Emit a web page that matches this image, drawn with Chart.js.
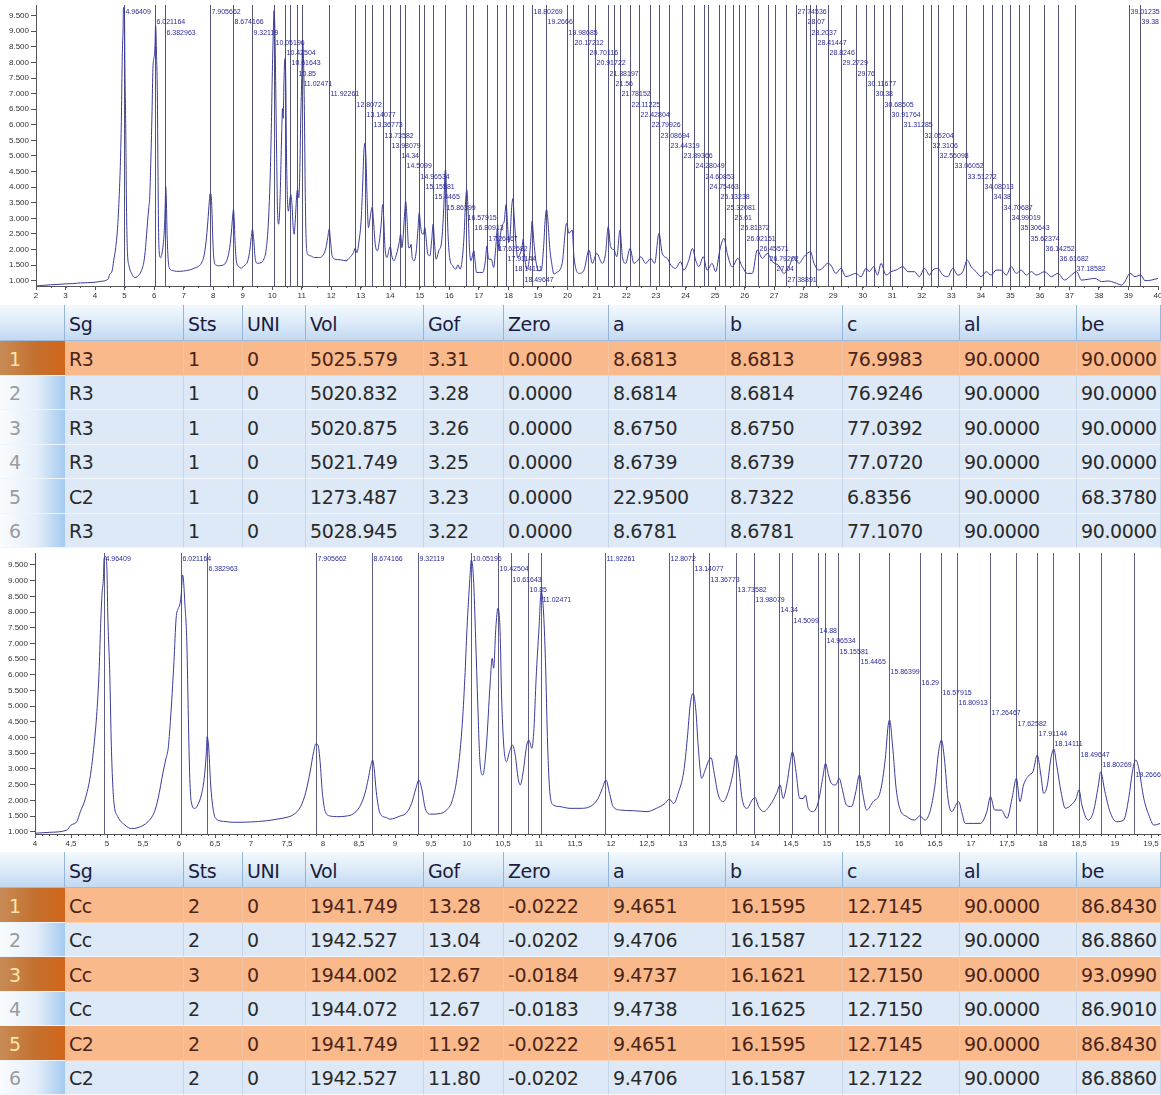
<!DOCTYPE html>
<html>
<head>
<meta charset="utf-8">
<script src="https://cdn.jsdelivr.net/npm/chart.js@4.4.1/dist/chart.umd.min.js"></script>
<style>
  body { margin: 0; background: #fff; width: 1161px; height: 1095px; position: relative; overflow: hidden; }
  .plot { position: absolute; left: 0; }
  .grid {
    position: absolute; left: 0; width: 1161px; display: grid;
    grid-template-columns: 65px 119px 59px 63px 118px 80px 105px 117px 117px 117px 117px 84px;
    grid-template-rows: 36px repeat(6, 34.5px);
    font-family: "DejaVu Sans", sans-serif; font-size: 19px; letter-spacing: -0.4px;
  }
  .grid div { box-sizing: border-box; display: flex; align-items: center; padding: 2px 0 0 4px; white-space: nowrap; overflow: hidden; }
  .h { background: linear-gradient(#f4f9fe, #dfecf9 45%, #c2d9f2); border-right: 1px solid #94b4d8; border-bottom: 1px solid #9dbcdf; color: #1c1c3c; }
  .c { background: #dde9f7; border-right: 1px solid #c5d6ea; border-bottom: 1px solid #f3f7fc; color: #2a2a2a; }
  .c.sel { background: #f9b98b; color: #4b2418; border-right-color: #f1c6a4; border-bottom-color: #fbd2b2; }
  .grid .n { background: linear-gradient(90deg, #fafcfe, #e5eff9 55%, #a4caf0); color: #9b9b9b; border-bottom: 1px solid #eef4fb; padding-left: 9px; }
  .grid .n.sel { background: linear-gradient(90deg, #c88b55, #c4702f 55%, #d2661a); color: #f7e8aa; }
</style>
</head>
<body>
<div class="plot" style="top:0"><canvas id="top" width="1161" height="305"></canvas></div>
<div class="grid" id="table1" style="top:305px"></div>
<div class="plot" style="top:548px"><canvas id="bottom" width="1161" height="304"></canvas></div>
<div class="grid" id="table2" style="top:852px"></div>

<script>
// powder pattern: [2theta, counts]
const pattern = [
  [2.00,830],[2.25,850],[2.50,870],[2.75,880],[3.00,900],[3.25,905],[3.50,930],[3.75,935],[4.00,950],[4.20,980],
  [4.44,1050],[4.50,1210],[4.58,1320],[4.63,1640],[4.70,2060],[4.77,2800],[4.82,3760],[4.86,4830],[4.89,6100],[4.91,7480],
  [4.93,8540],[4.95,9075],[4.96,9710],[4.98,9770],[5.00,9290],[5.01,8010],[5.04,5890],[5.06,3760],[5.08,2490],[5.10,1850],
  [5.15,1480],[5.25,1210],[5.34,1100],[5.43,1130],[5.57,1320],[5.66,1640],[5.71,2060],[5.78,2910],[5.82,3340],[5.85,3660],
  [5.88,4510],[5.93,6420],[5.96,7800],[5.99,8120],[6.01,8225],[6.03,8540],[6.05,9180],[6.06,9080],[6.08,8330],[6.11,6950],
  [6.13,4610],[6.15,2700],[6.17,1960],[6.22,1740],[6.26,1850],[6.31,2170],[6.35,2700],[6.38,3550],[6.39,4030],[6.41,3760],
  [6.44,2490],[6.48,1640],[6.52,1400],[6.62,1330],[6.76,1300],[6.99,1310],[7.22,1350],[7.36,1400],[7.50,1460],[7.60,1560],
  [7.69,1800],[7.76,2250],[7.82,2900],[7.87,3550],[7.90,3800],[7.93,3760],[7.96,3230],[7.99,2275],[8.03,1650],[8.10,1500],
  [8.19,1480],[8.33,1500],[8.42,1570],[8.51,1800],[8.58,2200],[8.63,2700],[8.66,3070],[8.69,3285],[8.71,3020],[8.74,2275],
  [8.79,1600],[8.88,1450],[8.93,1400],[9.07,1500],[9.16,1600],[9.23,1900],[9.29,2380],[9.33,2650],[9.37,2380],[9.42,1745],
  [9.49,1560],[9.63,1580],[9.72,1700],[9.79,1960],[9.86,2700],[9.93,4290],[9.97,5890],[10.00,7480],[10.04,9075],[10.06,9660],
  [10.09,9075],[10.12,7160],[10.15,5040],[10.18,3230],[10.22,2810],[10.27,3760],[10.32,5675],[10.35,6525],[10.37,6210],[10.40,7480],
  [10.43,8120],[10.46,7375],[10.48,5360],[10.51,3760],[10.55,3230],[10.59,3550],[10.63,3760],[10.67,3440],[10.71,2700],[10.74,2490],
  [10.78,2910],[10.83,3760],[10.86,3920],[10.90,3660],[10.93,4290],[10.96,5890],[11.00,7480],[11.03,8650],[11.06,8120],[11.09,6420],
  [11.12,3760],[11.15,2275],[11.20,1850],[11.29,1800],[11.43,1745],[11.57,1745],[11.71,1800],[11.82,2060],[11.88,2380],[11.93,2650],
  [11.98,2220],[12.03,1800],[12.13,1690],[12.31,1670],[12.50,1640],[12.63,1745],[12.75,1900],[12.81,2040],[12.87,1900],[12.94,2275],
  [13.01,2910],[13.06,3975],[13.10,5040],[13.14,5410],[13.18,4830],[13.21,3760],[13.26,2700],[13.30,2910],[13.35,3230],[13.39,3360],
  [13.43,2910],[13.49,2170],[13.56,1960],[13.63,2275],[13.69,2810],[13.74,3440],[13.77,3125],[13.82,2060],[13.89,1745],[13.96,2010],
  [14.00,2095],[14.05,1800],[14.12,1640],[14.21,1850],[14.30,2220],[14.35,2490],[14.39,2060],[14.44,2490],[14.49,3230],[14.52,3550],
  [14.57,2910],[14.62,2060],[14.67,2060],[14.70,2170],[14.74,1745],[14.81,1640],[14.88,1960],[14.94,2700],[14.98,3180],[15.02,2810],
  [15.06,2540],[15.12,2490],[15.17,2700],[15.21,2380],[15.27,1850],[15.34,1800],[15.40,2275],[15.45,2810],[15.50,2170],[15.55,1690],
  [15.64,1960],[15.74,2275],[15.81,3340],[15.85,4400],[15.87,4560],[15.91,3760],[15.96,2380],[16.01,1745],[16.11,1480],[16.22,1370],
  [16.29,1510],[16.36,1370],[16.43,1640],[16.50,2490],[16.55,3550],[16.59,3920],[16.63,3340],[16.68,2060],[16.73,1640],[16.83,1960],
  [16.87,1640],[16.92,1265],[17.03,1265],[17.13,1265],[17.22,1640],[17.27,2115],[17.33,1690],[17.42,1690],[17.50,1425],[17.57,2060],
  [17.63,2700],[17.68,1960],[17.73,2490],[17.81,2810],[17.86,2910],[17.92,3440],[17.97,2810],[18.01,2220],[18.06,2490],[18.11,3340],
  [18.15,3635],[18.19,3125],[18.25,2275],[18.31,1745],[18.39,1850],[18.46,2060],[18.50,2330],[18.54,1850],[18.63,1370],[18.70,1640],
  [18.77,2490],[18.80,2910],[18.86,2275],[18.93,1640],[19.02,1320],[19.12,1370],[19.19,2060],[19.25,3020],[19.29,3285],[19.33,3020],
  [19.40,2060],[19.47,1530],[19.54,1210],[19.61,1250],[19.82,1555],[19.97,2840],[20.05,2520],[20.16,2625],[20.22,1770],[20.39,1235],
  [20.56,1340],[20.73,1985],[20.84,1555],[20.99,1875],[21.18,1555],[21.29,1875],[21.38,2730],[21.46,2090],[21.58,1985],[21.67,1770],
  [21.78,2625],[21.86,1770],[21.97,1555],[22.12,2035],[22.25,1555],[22.39,1660],[22.48,1770],[22.65,1555],[22.82,1715],[22.95,1555],
  [23.10,2520],[23.21,1875],[23.38,1715],[23.50,1500],[23.66,1395],[23.83,1610],[23.94,1340],[24.11,1660],[24.23,2035],[24.34,1660],
  [24.45,1450],[24.60,1770],[24.73,1340],[24.90,1555],[25.02,1290],[25.16,1985],[25.30,2360],[25.41,1875],[25.58,1450],[25.77,1715],
  [25.92,1450],[26.09,1235],[26.26,1235],[26.43,1985],[26.60,1715],[26.77,1875],[26.94,1610],[27.16,1480],[27.33,1235],[27.50,1450],
  [27.67,1770],[27.84,1555],[28.01,1770],[28.12,1875],[28.23,1930],[28.35,1555],[28.52,1340],[28.69,1450],[28.80,1555],[28.92,1500],
  [29.09,1235],[29.26,1395],[29.43,1130],[29.60,1180],[29.77,1235],[29.94,1130],[30.11,1395],[30.22,1290],[30.37,1450],[30.50,1180],
  [30.62,1555],[30.79,1180],[30.96,1290],[31.13,1340],[31.36,1450],[31.53,1290],[31.75,1290],[31.92,1130],[32.09,1395],[32.26,1180],
  [32.37,1340],[32.54,1395],[32.71,1180],[32.88,1130],[33.05,1395],[33.22,1180],[33.39,1290],[33.54,1660],[33.67,1450],[33.84,1290],
  [34.01,1130],[34.18,1290],[34.35,1180],[34.52,1340],[34.69,1340],[34.86,1180],[35.03,1450],[35.20,1235],[35.37,1340],[35.54,1180],
  [35.71,1290],[35.88,1180],[36.16,1290],[36.39,1130],[36.61,1235],[36.84,1020],[37.01,1130],[37.24,1290],[37.41,1020],[37.63,1045],
  [37.86,1075],[38.09,970],[38.31,990],[38.54,935],[38.77,860],[38.88,970],[39.05,1235],[39.22,1130],[39.42,1180],[39.56,1000],
  [39.78,1020],[40.00,1075]
];

// peak markers, as labelled in each plot
const peaksTop = [
  '4.96409','6.021164','6.382963','7.905662','8.674166','9.32119','10.05196','10.42504','10.61643','10.85',
  '11.02471','11.92261','12.8072','13.14077','13.36773','13.73582','13.98079','14.34','14.5099','14.96534',
  '15.15581','15.4465','15.86399','16.57915','16.80913','17.26467','17.62582','17.91144','18.14111','18.49647',
  '18.80269','19.2666','19.98685','20.17212','20.70116','20.91722','21.38197','21.56','21.78152','22.11225',
  '22.42804','22.79926','23.08694','23.44319','23.89366','24.28049','24.60853','24.75463','25.13238','25.32081',
  '25.61','25.81372','26.02151','26.45571','26.79202','27.04','27.38891','27.74536','28.07','28.2037',
  '28.41447','28.8246','29.2729','29.76','30.11677','30.38','30.68505','30.91764','31.31285','32.05204',
  '32.3106','32.55098','33.06052','33.51272','34.08013','34.38','34.70687','34.99019','35.30643','35.62374',
  '36.14252','36.61682','37.18582','39.01235','39.38'
];
const peaksBottom = [
  '4.96409','6.021164','6.382963','7.905662','8.674166','9.32119','10.05196','10.42504','10.61643','10.85',
  '11.02471','11.92261','12.8072','13.14077','13.36773','13.73582','13.98079','14.34','14.5099','14.88',
  '14.96534','15.15581','15.4465','15.86399','16.29','16.57915','16.80913','17.26467','17.62582','17.91144',
  '18.14111','18.49647','18.80269','19.2666'
];

const yTicks = [1000,1500,2000,2500,3000,3500,4000,4500,5000,5500,6000,6500,7000,7500,8000,8500,9000,9500];
const xTicksTop = [2,3,4,5,6,7,8,9,10,11,12,13,14,15,16,17,18,19,20,21,22,23,24,25,26,27,28,29,30,31,32,33,34,35,36,37,38,39,40];
const xTicksBottom = [4,4.5,5,5.5,6,6.5,7,7.5,8,8.5,9,9.5,10,10.5,11,11.5,12,12.5,13,13.5,14,14.5,15,15.5,16,16.5,17,17.5,18,18.5,19,19.5];

const headers = ['', 'Sg', 'Sts', 'UNI', 'Vol', 'Gof', 'Zero', 'a', 'b', 'c', 'al', 'be'];
const table1Rows = [
  ['R3', '1', '0', '5025.579', '3.31', '0.0000', '8.6813', '8.6813', '76.9983', '90.0000', '90.0000'],
  ['R3', '1', '0', '5020.832', '3.28', '0.0000', '8.6814', '8.6814', '76.9246', '90.0000', '90.0000'],
  ['R3', '1', '0', '5020.875', '3.26', '0.0000', '8.6750', '8.6750', '77.0392', '90.0000', '90.0000'],
  ['R3', '1', '0', '5021.749', '3.25', '0.0000', '8.6739', '8.6739', '77.0720', '90.0000', '90.0000'],
  ['C2', '1', '0', '1273.487', '3.23', '0.0000', '22.9500', '8.7322', '6.8356', '90.0000', '68.3780'],
  ['R3', '1', '0', '5028.945', '3.22', '0.0000', '8.6781', '8.6781', '77.1070', '90.0000', '90.0000']
];
const table1Selected = [1];
const table2Rows = [
  ['Cc', '2', '0', '1941.749', '13.28', '-0.0222', '9.4651', '16.1595', '12.7145', '90.0000', '86.8430'],
  ['Cc', '2', '0', '1942.527', '13.04', '-0.0202', '9.4706', '16.1587', '12.7122', '90.0000', '86.8860'],
  ['Cc', '3', '0', '1944.002', '12.67', '-0.0184', '9.4737', '16.1621', '12.7150', '90.0000', '93.0990'],
  ['Cc', '2', '0', '1944.072', '12.67', '-0.0183', '9.4738', '16.1625', '12.7150', '90.0000', '86.9010'],
  ['C2', '2', '0', '1941.749', '11.92', '-0.0222', '9.4651', '16.1595', '12.7145', '90.0000', '86.8430'],
  ['C2', '2', '0', '1942.527', '11.80', '-0.0202', '9.4706', '16.1587', '12.7122', '90.0000', '86.8860']
];
const table2Selected = [1, 3, 5];

const FONT = "'Liberation Sans', Arial, sans-serif";

// vertical peak lines plus staircase labels
function peakMarkers(labels, cfg) {
  return {
    id: 'peakMarkers',
    beforeDatasetsDraw(chart) {
      const { ctx, chartArea: a, scales: { x } } = chart;
      ctx.save();
      ctx.strokeStyle = cfg.lineColor;
      ctx.lineWidth = 1;
      labels.forEach(s => {
        const v = parseFloat(s);
        if (v < x.min || v > x.max) return;
        const px = Math.round(x.getPixelForValue(v)) + 0.5;
        ctx.beginPath();
        ctx.moveTo(px, a.top);
        ctx.lineTo(px, a.bottom);
        ctx.stroke();
      });
      ctx.restore();
    },
    afterDatasetsDraw(chart) {
      const { ctx, chartArea: a, scales: { x } } = chart;
      ctx.save();
      ctx.font = '7px ' + FONT;
      ctx.fillStyle = '#2a2a9a';
      ctx.textBaseline = 'middle';
      let row = 0, prevEnd = -Infinity;
      labels.forEach(s => {
        const v = parseFloat(s);
        if (v < x.min || v > x.max) return;
        const px = Math.round(x.getPixelForValue(v)) + 0.5;
        row = px < prevEnd ? (row + 1) % 27 : 0;
        ctx.fillText(s, px + 1, a.top + cfg.rowTop + row * 10.3);
        prevEnd = px + 1 + ctx.measureText(s).width + 6;
      });
      ctx.restore();
    }
  };
}

function minorTicks(step, len) {
  return {
    id: 'minorTicks',
    afterDraw(chart) {
      const { ctx, scales: { x } } = chart;
      ctx.save();
      ctx.strokeStyle = '#555';
      ctx.lineWidth = 1;
      for (let n = Math.ceil(x.min / step); n <= Math.floor(x.max / step); n++) {
        const px = Math.round(x.getPixelForValue(n * step)) + 0.5;
        ctx.beginPath();
        ctx.moveTo(px, x.top);
        ctx.lineTo(px, x.top + len);
        ctx.stroke();
      }
      ctx.restore();
    }
  };
}

function patternChart(id, cfg) {
  return new Chart(document.getElementById(id), {
    type: 'line',
    data: {
      datasets: [{
        data: pattern.map(p => ({ x: p[0], y: p[1] })),
        borderColor: '#3a3a9e',
        borderWidth: 1,
        pointRadius: 0,
        cubicInterpolationMode: 'monotone'
      }]
    },
    options: {
      responsive: false,
      animation: false,
      events: [],
      layout: { padding: cfg.padding },
      plugins: { legend: { display: false }, tooltip: { enabled: false } },
      scales: {
        x: {
          type: 'linear', min: cfg.xMin, max: cfg.xMax,
          afterBuildTicks: s => { s.ticks = cfg.xTicks.map(v => ({ value: v })); },
          afterFit: s => { s.height = cfg.xAxisH; s.paddingLeft = 0; s.paddingRight = 0; },
          grid: { drawOnChartArea: false, tickLength: 4, color: '#555' },
          border: { color: '#555' },
          ticks: { autoSkip: false, maxRotation: 0, padding: 1, color: '#333', font: { size: 8, family: FONT }, callback: cfg.xFormat }
        },
        y: {
          min: cfg.yMin, max: cfg.yMax,
          afterBuildTicks: s => { s.ticks = yTicks.map(v => ({ value: v })); },
          afterFit: s => { s.width = cfg.yAxisW; s.paddingTop = 0; s.paddingBottom = 0; },
          grid: { drawOnChartArea: false, tickLength: 5, color: '#555' },
          border: { color: '#555' },
          ticks: { autoSkip: false, padding: 2, color: '#333', font: { size: 8, family: FONT }, callback: v => (v / 1000).toFixed(3) }
        }
      }
    },
    plugins: [peakMarkers(cfg.peaks, cfg.marker), minorTicks(cfg.minorStep, 2)]
  });
}

patternChart('top', {
  padding: { top: 5, right: 3, left: 0, bottom: 0 },
  xMin: 2, xMax: 40, xTicks: xTicksTop, xAxisH: 19, xFormat: v => String(v),
  yMin: 830, yMax: 9843, yAxisW: 36,
  peaks: peaksTop, marker: { lineColor: '#54547a', rowTop: 7 },
  minorStep: 0.5
});

patternChart('bottom', {
  padding: { top: 5, right: 1, left: 0, bottom: 0 },
  xMin: 4, xMax: 19.625, xTicks: xTicksBottom, xAxisH: 18, xFormat: v => String(v).replace('.', ','),
  yMin: 927, yMax: 9882, yAxisW: 35,
  peaks: peaksBottom, marker: { lineColor: '#5e5e84', rowTop: 6 },
  minorStep: 0.1
});

function buildTable(id, rows, selected) {
  let html = headers.map(h => `<div class="h">${h}</div>`).join('');
  rows.forEach((r, i) => {
    const sel = selected.includes(i + 1) ? ' sel' : '';
    html += `<div class="n${sel}">${i + 1}</div>` + r.map(v => `<div class="c${sel}">${v}</div>`).join('');
  });
  document.getElementById(id).innerHTML = html;
}

buildTable('table1', table1Rows, table1Selected);
buildTable('table2', table2Rows, table2Selected);
</script>
</body>
</html>
